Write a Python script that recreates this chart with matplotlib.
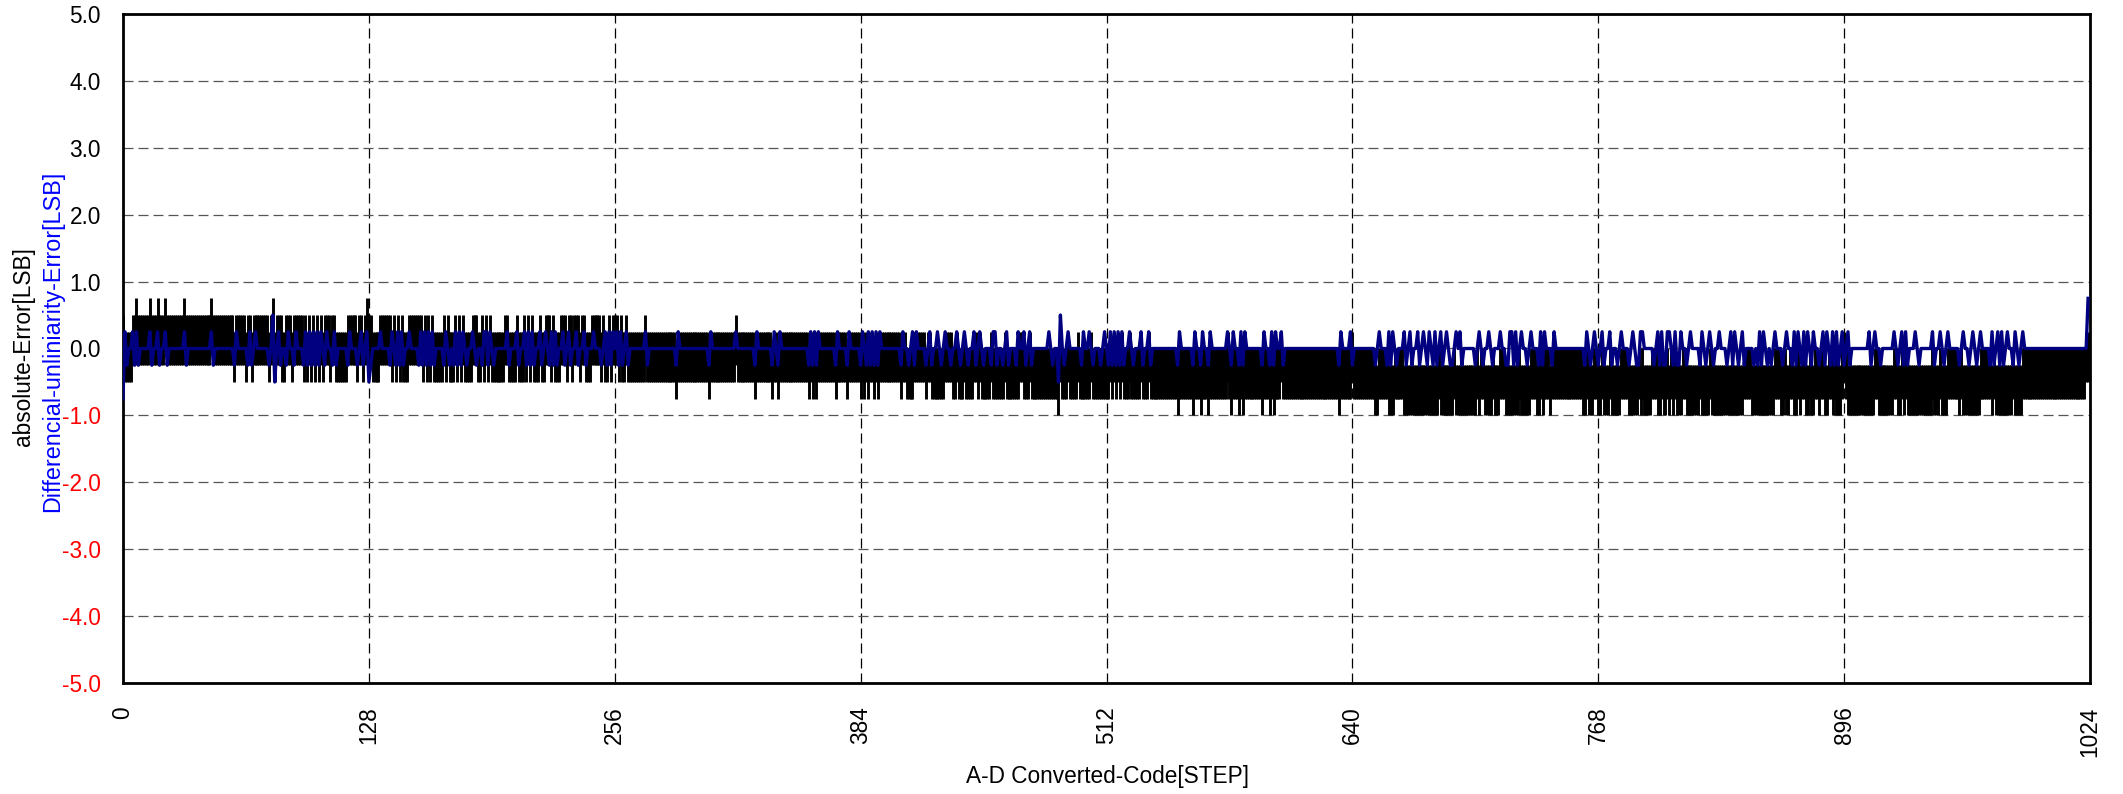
#!/usr/bin/env python3
"""ADC linearity plot: absolute error band (black) and DNL (navy) per code."""

import matplotlib
matplotlib.use('Agg')
import matplotlib.pyplot as plt
import numpy as np

plt.rcParams['font.family'] = ['Liberation Sans', 'DejaVu Sans']

N_CODES = 1024
FONT_SIZE = 16.3

# DNL: codes at +0.25 LSB
dnl_up = [
    1, 5, 7, 14, 18, 22, 32, 46, 59, 66, 69, 81, 86, 90, 95, 97, 99, 101, 103, 106, 110, 118, 124, 127,
    134, 140, 143, 145, 149, 155, 157, 159, 161, 168, 173, 175, 177, 182, 188, 189, 191, 200, 205, 209,
    211, 213, 217, 220, 223, 225, 229, 232, 236, 240, 245, 251, 253, 255,
    257, 259, 262, 272, 289, 306, 319, 330, 339, 342, 358, 360, 362, 372, 378,
    385, 388, 390, 392, 394, 406, 411, 413, 420, 424, 428, 434, 438, 443, 446, 453, 454, 460, 466, 469,
    472, 482, 492, 500, 503, 511,
    514, 516, 518, 520, 524, 530, 534, 550, 558, 562, 566, 575, 578, 582, 584, 594, 598, 600, 603, 634, 639,
    654, 659, 661, 667, 670, 674, 677, 680, 683, 686, 689, 694, 696, 706, 711, 717, 722, 723, 725, 728,
    733, 738, 740, 745, 762, 766,
    770, 774, 780, 786, 790, 791, 799, 801, 804, 805, 808, 811, 816, 822, 826, 831, 837, 839, 843, 852,
    854, 860, 866, 870, 872, 875, 877, 880, 885, 887, 890, 892, 895,
    898, 909, 912, 922, 926, 928, 933, 942, 946, 950, 958, 963, 967, 973, 976, 978, 981, 985, 989,
]
# codes at -0.25 LSB
dnl_down = [
    2, 6, 8, 15, 19, 23, 33, 47, 58, 65, 67, 76, 82, 85, 89, 94, 96, 98, 100, 102, 105, 109, 111, 117, 122, 125,
    129, 139, 142, 144, 146, 154, 156, 158, 160, 162, 167, 170, 172, 174, 176, 179, 184, 187, 190, 193,
    201, 206, 210, 212, 214, 218, 222, 224, 226, 230, 233, 237, 241, 249, 252, 254,
    258, 260, 263, 273, 288, 305, 329, 338, 341, 357, 359, 361, 371, 377,
    384, 387, 389, 391, 393, 405, 409, 412, 418, 421, 426, 431, 436, 440, 444, 448, 452, 455, 458, 461,
    465, 470, 473, 484, 490, 499, 505, 509,
    513, 515, 517, 519, 521, 526, 531, 535, 549, 557, 561, 565, 577, 581, 583, 593, 597, 599, 604, 633,
    640, 652, 658, 660, 663, 668, 671, 675, 679, 682, 684, 687, 691, 692, 697, 704, 708, 713, 720, 721,
    724, 726, 731, 737, 739, 744, 761, 764,
    768, 771, 775, 778, 784, 788, 789, 797, 800, 802, 803, 807, 809, 810, 814, 821, 824, 828, 835, 838,
    841, 844, 849, 851, 853, 856, 858, 864, 869, 871, 874, 876, 879, 883, 886, 889, 891, 893,
    896, 899, 910, 915, 924, 927, 929, 935, 943, 948, 956, 961, 965, 972, 974, 977, 979, 984, 987,
]
# the few larger single-code errors: (code, LSB)
dnl_large = [(0, -0.75), (78, 0.5), (79, -0.5), (128, -0.5), (487, -0.5), (488, 0.5), (1023, 0.75)]

# Absolute error: a band 0.75 LSB tall that moves in 0.25 steps. Level 0 means +0.25 .. -0.5.
# Runs are (first code, last code).
runs_plus_25 = [
    (0, 127),
    (128, 129), (134, 139), (141, 141), (143, 143), (145, 145), (149, 154), (155, 155), (157, 157),
    (159, 159), (161, 161), (167, 167), (169, 169), (173, 173), (175, 175), (177, 177), (182, 184),
    (187, 187), (189, 189), (191, 191), (199, 200), (205, 205), (209, 209), (211, 211), (213, 213),
    (217, 217), (220, 222), (224, 224), (228, 230), (232, 233), (235, 237), (239, 240), (244, 248),
    (250, 250), (253, 253), (255, 256),
    (257, 257), (259, 259), (262, 262), (272, 272), (319, 319),
]
runs_minus_25 = [
    (288, 288), (305, 305), (329, 329), (338, 338), (341, 341), (357, 357), (359, 359), (361, 361),
    (371, 371), (377, 377),
    (384, 384), (386, 386), (388, 388), (391, 391), (393, 393), (405, 405), (408, 411), (418, 418),
    (421, 424), (425, 427), (432, 433), (435, 437), (439, 442), (445, 445), (447, 451), (453, 458),
    (460, 466), (469, 470), (471, 471), (473, 483), (484, 486), (489, 491), (493, 496), (498, 503),
    (505, 1023),
]
runs_zero = [
    (1, 4), (58, 58), (64, 64), (67, 67), (76, 76), (79, 79), (83, 84), (88, 88), (94, 94), (96, 96),
    (98, 98), (100, 100), (102, 102), (104, 104), (108, 108), (111, 116), (122, 122), (125, 125),
    (514, 514), (516, 516), (518, 518), (520, 520), (524, 524), (530, 530), (534, 534), (575, 575),
    (603, 603), (640, 640), (896, 896), (1022, 1023),
]
runs_minus_50 = [
    (487, 487),
    (549, 549), (557, 557), (561, 561), (565, 565), (577, 577), (581, 581), (583, 583), (593, 593),
    (597, 597), (599, 599), (633, 633),
    (652, 653), (659, 659), (660, 661), (667, 668), (669, 671), (672, 674), (675, 677), (678, 679),
    (680, 682), (683, 684), (686, 687), (688, 689), (690, 692), (694, 696), (697, 702), (703, 704),
    (706, 706), (709, 712), (714, 716), (720, 721), (722, 723), (724, 726), (728, 731), (732, 732),
    (736, 737), (739, 739), (743, 743), (760, 761), (763, 764), (765, 765),
    (768, 769), (771, 773), (775, 779), (784, 785), (786, 788), (790, 790), (792, 795), (799, 800),
    (802, 802), (803, 803), (805, 805), (807, 807), (809, 811), (814, 820), (822, 825), (827, 831),
    (832, 837), (838, 843), (848, 850), (851, 859), (863, 864), (866, 867), (870, 871), (873, 873),
    (876, 877), (879, 880), (883, 883), (886, 887), (890, 890), (892, 894),
    (898, 909), (910, 911), (914, 921), (924, 925), (927, 927), (929, 933), (934, 941), (943, 945),
    (947, 949), (956, 956), (958, 960), (961, 963), (964, 966), (973, 973), (975, 976), (977, 981),
    (982, 983), (985, 987), (988, 988),
]
codes_plus_50 = [7, 14, 18, 22, 32, 46, 78, 127]

x_ticks = [0, 128, 256, 384, 512, 640, 768, 896, 1024]
y_ticks = [5.0, 4.0, 3.0, 2.0, 1.0, 0.0, -1.0, -2.0, -3.0, -4.0, -5.0]


def build_dnl():
    dnl = np.zeros(N_CODES)
    dnl[dnl_up] = 0.25
    dnl[dnl_down] = -0.25
    for code, val in dnl_large:
        dnl[code] = val
    return dnl


def build_level():
    level = np.zeros(N_CODES)
    for runs, val in [(runs_plus_25, 0.25), (runs_minus_25, -0.25),
                      (runs_zero, 0.0), (runs_minus_50, -0.5)]:
        for first, last in runs:
            level[first:last + 1] = val
    level[codes_plus_50] = 0.5
    return level


def main():
    codes = np.arange(N_CODES)
    level = build_level()

    fig = plt.figure(figsize=(21.23, 7.94), dpi=100)
    ax = fig.add_axes([123 / 2123, 1 - 683 / 794, (2090 - 123) / 2123, (683 - 14) / 794])

    ax.vlines(codes, level - 0.5, level + 0.25, color='black', lw=2.1, zorder=3)
    ax.plot(codes, build_dnl(), color='#000080', lw=2.4, zorder=6)

    ax.set_xlim(0, 1024)
    ax.set_ylim(-5, 5)
    ax.set_xticks(x_ticks)
    ax.set_yticks(y_ticks)
    ax.set_yticklabels([f'{v:.1f}' for v in y_ticks], fontsize=FONT_SIZE)
    ax.tick_params(axis='both', length=0)
    ax.tick_params(axis='y', pad=16)
    ax.tick_params(axis='x', pad=17, labelsize=FONT_SIZE, labelrotation=90)
    for lab, v in zip(ax.get_yticklabels(), y_ticks):
        lab.set_color('#ff0000' if v < 0 else 'black')

    ax.grid(True, axis='y', color='#555555', lw=0.9, dashes=(8, 4), zorder=1)
    ax.grid(True, axis='x', color='black', lw=0.9, dashes=(8, 4), zorder=1)
    for spine in ax.spines.values():
        spine.set_linewidth(2.0)
        spine.set_zorder(5)

    fig.text(1107 / 2123, 1 - 777 / 794, 'A-D Converted-Code[STEP]', fontsize=FONT_SIZE, ha='center', va='center')
    fig.text(24 / 2123, 1 - 347 / 794, 'absolute-Error[LSB]', fontsize=FONT_SIZE, rotation=90, ha='center', va='center')
    fig.text(53 / 2123, 1 - 341 / 794, 'Differencial-unliniarity-Error[LSB]', fontsize=16.8, color='#0000ff',
             rotation=90, ha='center', va='center')

    fig.savefig('out.png', dpi=100)
    plt.close(fig)


if __name__ == "__main__":
    main()
